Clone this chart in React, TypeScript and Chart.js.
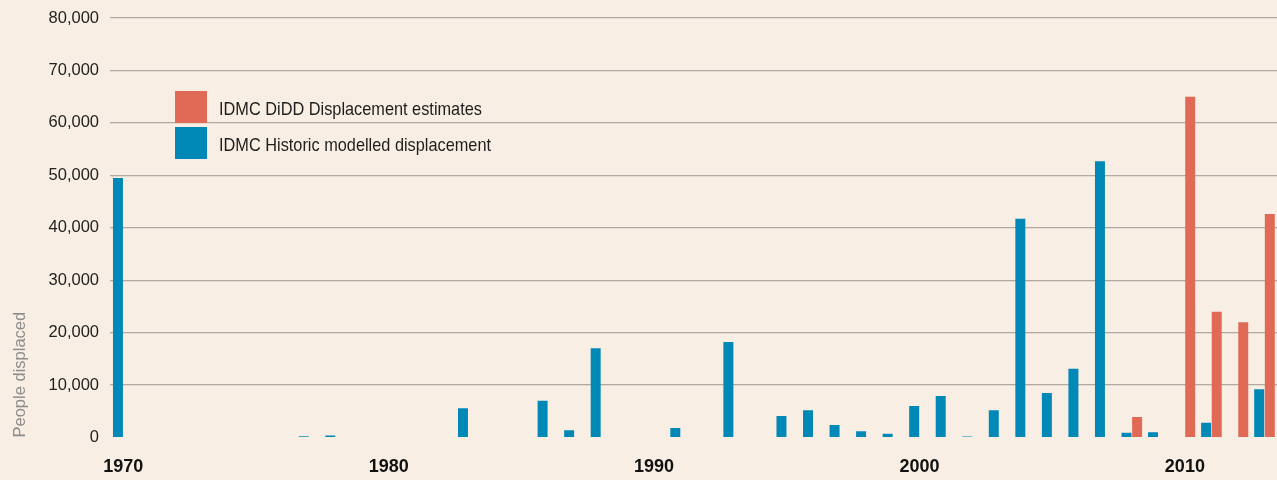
import React, { useEffect, useRef } from "react";
import { Chart, registerables } from "chart.js";

Chart.register(...registerables);

const years = [
  "1970", "1971", "1972", "1973", "1974", "1975", "1976", "1977", "1978", "1979",
  "1980", "1981", "1982", "1983", "1984", "1985", "1986", "1987", "1988", "1989",
  "1990", "1991", "1992", "1993", "1994", "1995", "1996", "1997", "1998", "1999",
  "2000", "2001", "2002", "2003", "2004", "2005", "2006", "2007", "2008", "2009",
  "2010", "2011", "2012", "2013",
];

const historicModelled = [
  49500, null, null, null, null, null, null, 250, 400, null,
  null, null, null, 5600, null, null, 7000, 1400, 17000, null,
  null, 1800, null, 18200, null, 4100, 5200, 2400, 1200, 700,
  6000, 7900, 200, 5200, 41700, 8500, 13100, 52700, 900, 1000,
  null, 2800, null, 9200,
];

const diddEstimates = [
  null, null, null, null, null, null, null, null, null, null,
  null, null, null, null, null, null, null, null, null, null,
  null, null, null, null, null, null, null, null, null, null,
  null, null, null, null, null, null, null, null, 3900, null,
  65000, 24000, 22000, 42600,
];

const yTicks = [0, 10000, 20000, 30000, 40000, 50000, 60000, 70000, 80000];
const decadeLabels = ["1970", "1980", "1990", "2000", "2010"];

const legendItems = [
  { label: "IDMC DiDD Displacement estimates", color: "#E06A56" },
  { label: "IDMC Historic modelled displacement", color: "#0088B7" },
];

const FONT = '"Liberation Sans", Arial, sans-serif';
const BG = "#F8EEE3";

export default function App() {
  const canvasRef = useRef<HTMLCanvasElement | null>(null);

  useEffect(() => {
    if (!canvasRef.current) return;
    Chart.defaults.font.family = FONT;
    const chart = new Chart(canvasRef.current, {
      type: "bar",
      data: {
        labels: years,
        datasets: [
          {
            label: legendItems[1].label,
            data: historicModelled,
            backgroundColor: legendItems[1].color,
            categoryPercentage: 0.8,
            barPercentage: 0.94,
          },
          {
            label: legendItems[0].label,
            data: diddEstimates,
            backgroundColor: legendItems[0].color,
            categoryPercentage: 0.8,
            barPercentage: 0.94,
          },
        ],
      },
      options: {
        animation: false,
        responsive: false,
        devicePixelRatio: 1,
        layout: { padding: { top: 18, right: 0, bottom: 0, left: 0 } },
        plugins: {
          legend: { display: false },
          tooltip: { enabled: false },
        },
        scales: {
          x: {
            afterFit: (scale: any) => {
              scale.height = 42.5;
            },
            grid: { display: false, drawTicks: false },
            border: { display: false },
            ticks: {
              autoSkip: false,
              maxRotation: 0,
              minRotation: 0,
              padding: 18.5,
              color: "#111111",
              font: { family: FONT, size: 18, weight: "bold" },
              callback: function (this: any, value: any) {
                const lab = this.getLabelForValue(value);
                return decadeLabels.includes(lab) ? lab : "";
              },
            },
          },
          y: {
            min: 0,
            max: 80000,
            afterBuildTicks: (scale: any) => {
              scale.ticks = yTicks.map((v) => ({ value: v }));
            },
            afterFit: (scale: any) => {
              scale.width = 110;
            },
            grid: {
              drawTicks: false,
              lineWidth: 1.2,
              color: (ctx: any) => (ctx.tick && ctx.tick.value === 0 ? "rgba(0,0,0,0)" : "#B0A9A2"),
            },
            border: { display: false },
            ticks: {
              padding: 11,
              color: "#222222",
              font: { family: FONT, size: 16.5, lineHeight: 0.8 },
              callback: (value: any) => Number(value).toLocaleString("en-US"),
            },
            title: {
              display: true,
              text: "People displaced",
              align: "start",
              color: "#8C8C8C",
              font: { family: FONT, size: 16.5 },
              padding: { top: 11, bottom: 0 },
            },
          },
        },
      },
    });
    return () => chart.destroy();
  }, []);

  return (
    <div
      style={{
        position: "fixed",
        left: 0,
        top: 0,
        width: 1277,
        height: 480,
        overflow: "hidden",
        background: BG,
      }}
    >
      <canvas
        ref={canvasRef}
        width={1283}
        height={480}
        style={{ position: "absolute", left: 0, top: 0, width: 1283, height: 480, display: "block" }}
      />
      {legendItems.map((item, i) => (
        <div
          key={item.label}
          style={{
            position: "absolute",
            left: 175,
            top: 91 + i * 36,
            height: 32,
            display: "flex",
            alignItems: "center",
            fontFamily: FONT,
            whiteSpace: "nowrap",
          }}
        >
          <span style={{ display: "inline-block", width: 32, height: 32, background: item.color, marginRight: 12 }} />
          <span
            style={{
              display: "inline-block",
              position: "relative",
              top: 2,
              fontSize: 18.5,
              color: "#1E1E1E",
              transform: "scaleX(0.882)",
              transformOrigin: "left center",
            }}
          >
            {item.label}
          </span>
        </div>
      ))}
    </div>
  );
}
